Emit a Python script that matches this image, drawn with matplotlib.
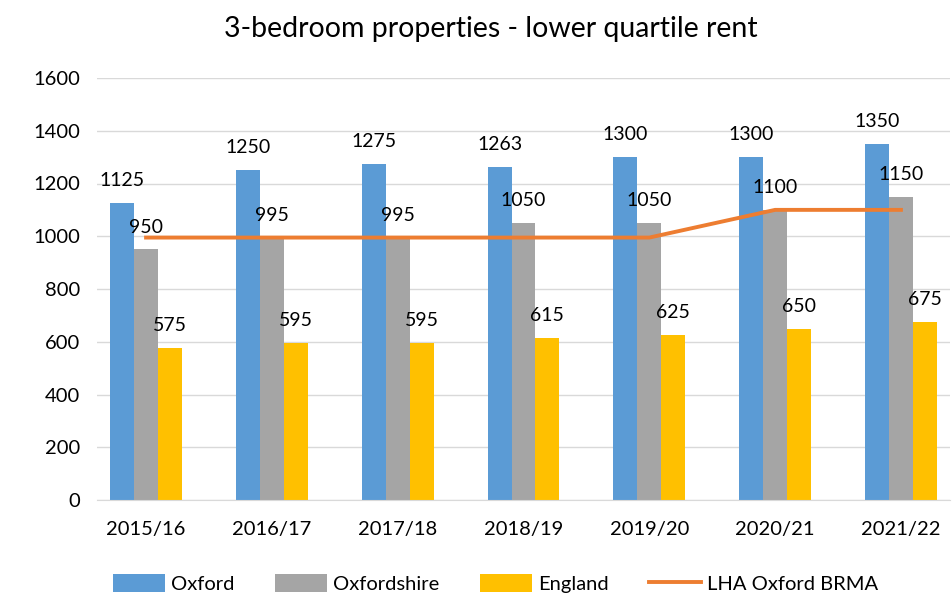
import matplotlib
matplotlib.use("Agg")
import matplotlib.pyplot as plt
import numpy as np

plt.rcParams['font.family'] = ['Lato', 'DejaVu Sans']

years = ["2015/16", "2016/17", "2017/18", "2018/19", "2019/20", "2020/21", "2021/22"]
oxford = [1125, 1250, 1275, 1263, 1300, 1300, 1350]
oxfordshire = [950, 995, 995, 1050, 1050, 1100, 1150]
england = [575, 595, 595, 615, 625, 650, 675]
lha = [995, 995, 995, 995, 995, 1100, 1100]

c_ox = "#5B9BD5"
c_oxs = "#A5A5A5"
c_eng = "#FFC000"
c_lha = "#ED7D31"

fig = plt.figure(figsize=(9.53, 5.94), dpi=100)
ax = fig.add_axes([97/953, 1-500/594, (950-97)/953, (500-78)/594])

x = np.arange(len(years))
w = 0.19
handles = []
series = [(oxford, c_ox, "Oxford", -w), (oxfordshire, c_oxs, "Oxfordshire", 0), (england, c_eng, "England", w)]
for vals, col, lab, off in series:
    bars = ax.bar(x + off, vals, width=w, color=col, label=lab, zorder=2)
    handles.append(bars)
    for xi, v in zip(x + off, vals):
        ax.annotate(str(v), (xi, v), xytext=(0, 10), textcoords="offset points",
                    ha="center", va="bottom", fontsize=14, color="#000000", zorder=4)

ln, = ax.plot(x, lha, color=c_lha, lw=2.8, label="LHA Oxford BRMA", zorder=3)
handles.append(ln)

ax.set_ylim(0, 1600)
ax.set_yticks(range(0, 1601, 200))
ax.set_xlim(-0.39, 6.39)
ax.set_xticks(x)
ax.set_xticklabels(years)
ax.grid(axis="y", color="#D9D9D9", lw=1, zorder=0)
for s in ["top", "right", "left"]:
    ax.spines[s].set_visible(False)
ax.spines["bottom"].set_color("#D9D9D9")
ax.tick_params(axis="both", length=0, labelsize=14.5, colors="#000000")
ax.tick_params(axis="x", pad=15)
ax.tick_params(axis="y", pad=12)

fig.text(0.515, 0.952, "3-bedroom properties - lower quartile rent", ha="center", va="center", fontsize=20.5)

fig.legend(handles, [h.get_label() for h in handles], loc="center", bbox_to_anchor=(0.52, 0.018),
           ncol=4, frameon=False, fontsize=14.5,
           handlelength=2.6, handleheight=1.0, columnspacing=2.0, handletextpad=0.3)

fig.savefig("out.png", dpi=100)
